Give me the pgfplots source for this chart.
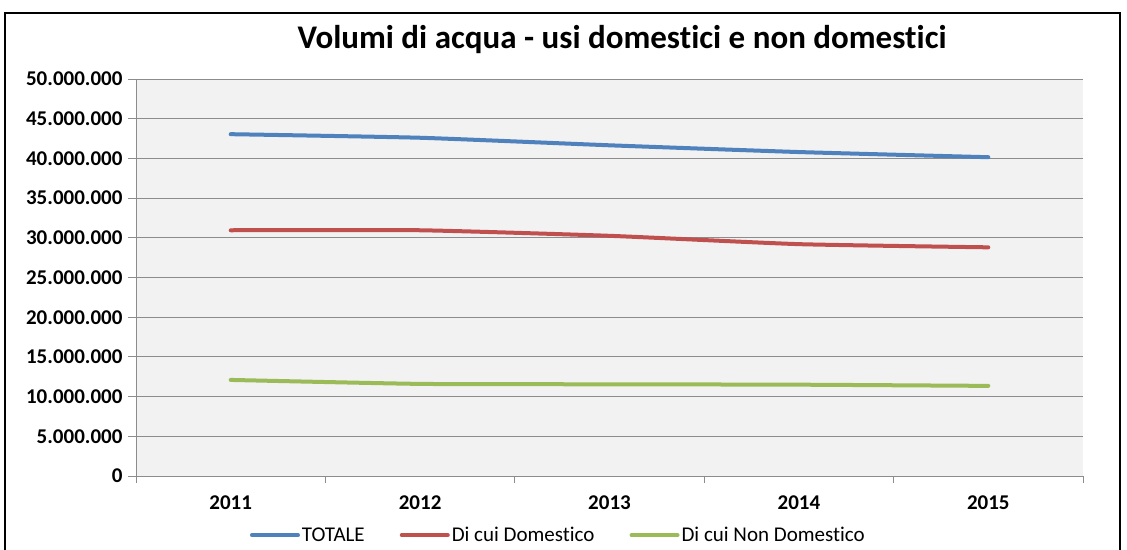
\documentclass[border=0pt]{standalone}
\usepackage{pgfplots}
\pgfplotsset{compat=1.18}
\usepackage{fontspec}
\setmainfont{Carlito}[RawFeature={-liga;-clig;-dlig}]
\definecolor{cBlue}{HTML}{4F81BD}
\definecolor{cRed}{HTML}{C0504D}
\definecolor{cGreen}{HTML}{9BBB59}
\definecolor{cBg}{HTML}{F2F2F2}
\definecolor{cGrid}{HTML}{8C8C8C}
\begin{document}
\begin{tikzpicture}
\useasboundingbox (0pt,0pt) rectangle (1127pt,549pt);
\fill[white] (0pt,0pt) rectangle (1127pt,549pt);
\draw[line width=2.5pt,black] (5pt,-5pt) -- (5pt,536pt) -- (1120pt,536pt) -- (1120pt,-5pt);
\node[font=\bfseries\fontsize{33}{40}\selectfont, anchor=center] at (622pt,509pt) {Volumi di acqua - usi domestici e non domestici};
\begin{axis}[
  at={(136pt,73pt)}, anchor=south west,
  scale only axis, width=947pt, height=397pt,
  xmin=0.5, xmax=5.5, ymin=0, ymax=50000000,
  axis lines=left, axis line style={-, cGrid, line width=1pt},
  axis background/.style={fill=cBg},
  xtick={1,2,3,4,5}, xticklabels={2011,2012,2013,2014,2015},
  minor xtick={0.5,1.5,2.5,3.5,4.5,5.5},
  ytick={0,5000000,...,50000000},
  scaled y ticks=false,
  yticklabel style={/pgf/number format/.cd, fixed, precision=0, 1000 sep={.}, assume math mode=true},
  xticklabel style={/pgf/number format/assume math mode=true},
  tick label style={font=\bfseries\fontsize{21}{25}\selectfont, black},
  tick align=outside,
  major tick length=8pt, minor tick length=7pt,
  x tick style={draw=none},
  minor x tick style={draw=cGrid, line width=1pt},
  y tick style={draw=cGrid, line width=1pt},
  ymajorgrids, grid style={cGrid, line width=1pt},
  xticklabel shift=8pt,
  yticklabel shift=2pt,
  clip=false,
  legend columns=3,
  legend style={draw=none, fill=none, at={(0.446,-0.149)}, anchor=center,
    font=\fontsize{21}{25}\selectfont,
    /tikz/every even column/.append style={column sep=33pt}},
  legend image code/.code={\draw[#1, line width=4pt] (0pt,0pt) -- (46pt,0pt);},
]
\addplot[cBlue, line width=4pt, line cap=round, smooth, tension=0.3] coordinates {(1,43050000) (2,42600000) (3,41650000) (4,40800000) (5,40150000)};
\addlegendentry{TOTALE}
\addplot[cRed, line width=4pt, line cap=round, smooth, tension=0.3] coordinates {(1,30950000) (2,30950000) (3,30250000) (4,29200000) (5,28800000)};
\addlegendentry{Di cui Domestico}
\addplot[cGreen, line width=4pt, line cap=round, smooth, tension=0.3] coordinates {(1,12100000) (2,11600000) (3,11550000) (4,11500000) (5,11350000)};
\addlegendentry{Di cui Non Domestico}
\end{axis}
\end{tikzpicture}
\end{document}
